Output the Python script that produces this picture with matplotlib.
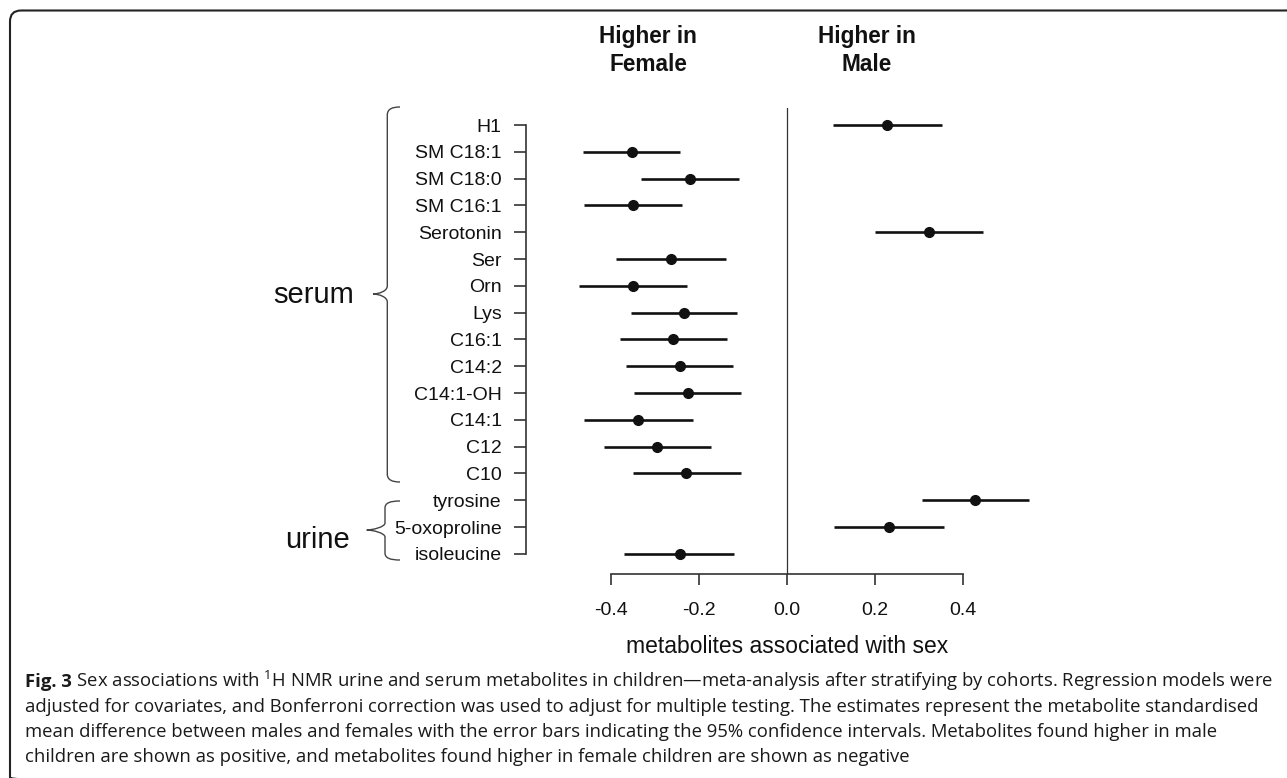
import matplotlib
matplotlib.use("Agg")
import matplotlib.pyplot as plt
from matplotlib.patches import FancyBboxPatch, PathPatch
from matplotlib.path import Path

plt.rcParams['font.family'] = ['Liberation Sans', 'DejaVu Sans']
plt.rcParams['axes.unicode_minus'] = False
plt.rcParams['mathtext.fontset'] = 'custom'
plt.rcParams['mathtext.rm'] = 'Open Sans'
plt.rcParams['mathtext.it'] = 'Open Sans:italic'
plt.rcParams['mathtext.bf'] = 'Open Sans:bold'

# ---------------- data ----------------
metabolites = ["H1", "SM C18:1", "SM C18:0", "SM C16:1", "Serotonin", "Ser", "Orn",
               "Lys", "C16:1", "C14:2", "C14:1-OH", "C14:1", "C12", "C10",
               "tyrosine", "5-oxoproline", "isoleucine"]
estimate = [0.228, -0.352, -0.220, -0.350, 0.323, -0.264, -0.350, -0.234, -0.259,
            -0.243, -0.225, -0.337, -0.294, -0.228, 0.427, 0.232, -0.243]
ci_low = [0.105, -0.462, -0.331, -0.461, 0.200, -0.387, -0.472, -0.354, -0.380,
          -0.366, -0.346, -0.461, -0.416, -0.350, 0.307, 0.107, -0.370]
ci_high = [0.353, -0.242, -0.108, -0.239, 0.445, -0.139, -0.226, -0.114, -0.135,
           -0.122, -0.103, -0.214, -0.171, -0.104, 0.551, 0.357, -0.119]
x_ticks = [-0.4, -0.2, 0.0, 0.2, 0.4]
x_tick_labels = ["-0.4", "-0.2", "0.0", "0.2", "0.4"]
groups = ["serum", "urine"]
headers = [("Higher in", "Female"), ("Higher in", "Male")]
xlabel = "metabolites associated with sex"
caption_label = "Fig. 3"
caption_lines = [
    r" Sex associations with $^{\mathrm{1}}$H NMR urine and serum metabolites in children—meta-analysis after stratifying by cohorts. Regression models were",
    "adjusted for covariates, and Bonferroni correction was used to adjust for multiple testing. The estimates represent the metabolite standardised",
    "mean difference between males and females with the error bars indicating the 95% confidence intervals. Metabolites found higher in male",
    "children are shown as positive, and metabolites found higher in female children are shown as negative",
]

# ---------------- layout (pixels) ----------------
W, H = 1287, 778
fig = plt.figure(figsize=(W / 100, H / 100), dpi=100)
fig.patch.set_facecolor('white')

def fx(px):
    return px / W

def fy(py):
    return 1 - py / H

ax_left, ax_right = 525.7, 1059.5
ax_top, ax_bot = 108.0, 574.0
ax = fig.add_axes([fx(ax_left), fy(ax_bot), fx(ax_right) - fx(ax_left), fy(ax_top) - fy(ax_bot)])

x0_px, px_per_unit = 786.7, 440.0
row0_px, row_step = 125.0, 26.8
ax.set_xlim((ax_left - x0_px) / px_per_unit, (ax_right - x0_px) / px_per_unit)
ax.set_ylim((ax_bot - row0_px) / row_step, (ax_top - row0_px) / row_step)

rows = list(range(len(metabolites)))
ink = '#111111'
ax.axvline(0, color='#333333', lw=0.9, zorder=1)
ax.hlines(rows, ci_low, ci_high, color=ink, lw=1.9, zorder=2)
ax.plot(estimate, rows, 'o', color=ink, ms=7.0, zorder=3)

for side in ['top', 'right']:
    ax.spines[side].set_visible(False)
for side in ['left', 'bottom']:
    ax.spines[side].set_color('#333333')
    ax.spines[side].set_linewidth(1.2)
ax.spines['left'].set_bounds(rows[0], rows[-1])
ax.spines['bottom'].set_bounds(x_ticks[0], x_ticks[-1])

ax.set_yticks(rows)
ax.set_yticklabels(metabolites, fontsize=14, color=ink)
ax.set_xticks(x_ticks)
ax.set_xticklabels(x_tick_labels, fontsize=14, color=ink)
ax.tick_params(axis='y', length=8.6, width=1.2, pad=8.6, color='#333333')
ax.tick_params(axis='x', length=7.9, width=1.2, pad=12.5, color='#333333')
ax.set_facecolor('none')

# ---------------- overlay in pixel coordinates ----------------
ov = fig.add_axes([0, 0, 1, 1], zorder=-1)
ov.set_xlim(0, W)
ov.set_ylim(H, 0)
ov.axis('off')

border = FancyBboxPatch((10, 10.5), 1300, 778, boxstyle="round,pad=0,rounding_size=11",
                        fill=False, lw=1.5, ec='#222222')
ov.add_patch(border)

# headers
for (l1, l2), cx in zip(headers, [648.3, 866.7]):
    ov.text(cx, 43.3, l1, ha='center', va='baseline', fontsize=16.3, fontweight='bold', color=ink)
    ov.text(cx, 71.0, l2, ha='center', va='baseline', fontsize=16.3, fontweight='bold', color=ink)

# group labels
ov.text(313.7, 303.3, groups[0], ha='center', va='baseline', fontsize=21, color=ink)
ov.text(317.5, 548.3, groups[1], ha='center', va='baseline', fontsize=21, color=ink)

# braces
def brace(xv, xend, xtip, ytop, ybot, ymid, r):
    verts = [(xend, ytop),
             (xv + 5, ytop), (xv, ytop + 2), (xv, ytop + r),
             (xv, ymid - r),
             (xv, ymid - 3), (xtip + 6, ymid), (xtip, ymid),
             (xtip + 6, ymid), (xv, ymid + 3), (xv, ymid + r),
             (xv, ybot - r),
             (xv, ybot - 2), (xv + 5, ybot), (xend, ybot)]
    codes = [Path.MOVETO,
             Path.CURVE4, Path.CURVE4, Path.CURVE4,
             Path.LINETO,
             Path.CURVE4, Path.CURVE4, Path.CURVE4,
             Path.CURVE4, Path.CURVE4, Path.CURVE4,
             Path.LINETO,
             Path.CURVE4, Path.CURVE4, Path.CURVE4]
    ov.add_patch(PathPatch(Path(verts, codes), fill=False, lw=1.0, ec='#444444'))

brace(387.3, 400, 373, 107, 482, 294, 8)
brace(385.0, 400, 366.7, 501, 560, 530, 7)

# x label
ov.text(786.7, 653, xlabel, ha='center', va='baseline', fontsize=16.5, color=ink)

# caption
cap_color = '#1a1a1a'
base_fs = 12
t_label = ov.text(25, 687, caption_label, ha='left', va='baseline', fontsize=base_fs,
                  family='Open Sans', fontweight='bold', color=cap_color)
cap_texts = []
for i, line in enumerate(caption_lines):
    t = ov.text(25, 687 + 25 * i, line, ha='left', va='baseline', fontsize=base_fs,
                family='Open Sans', color=cap_color)
    cap_texts.append(t)

def label_width():
    fig.canvas.draw()
    rr = fig.canvas.get_renderer()
    return t_label.get_window_extent(renderer=rr).width, rr

lw0, rr = label_width()
w_line1 = lw0 + cap_texts[0].get_window_extent(renderer=rr).width
scale = 1243.0 / w_line1
fs = base_fs * scale
t_label.set_fontsize(fs)
for t in cap_texts:
    t.set_fontsize(fs)
lw1, rr = label_width()
cap_texts[0].set_x(25 + lw1)

fig.savefig("out.png", dpi=100, facecolor='white')
